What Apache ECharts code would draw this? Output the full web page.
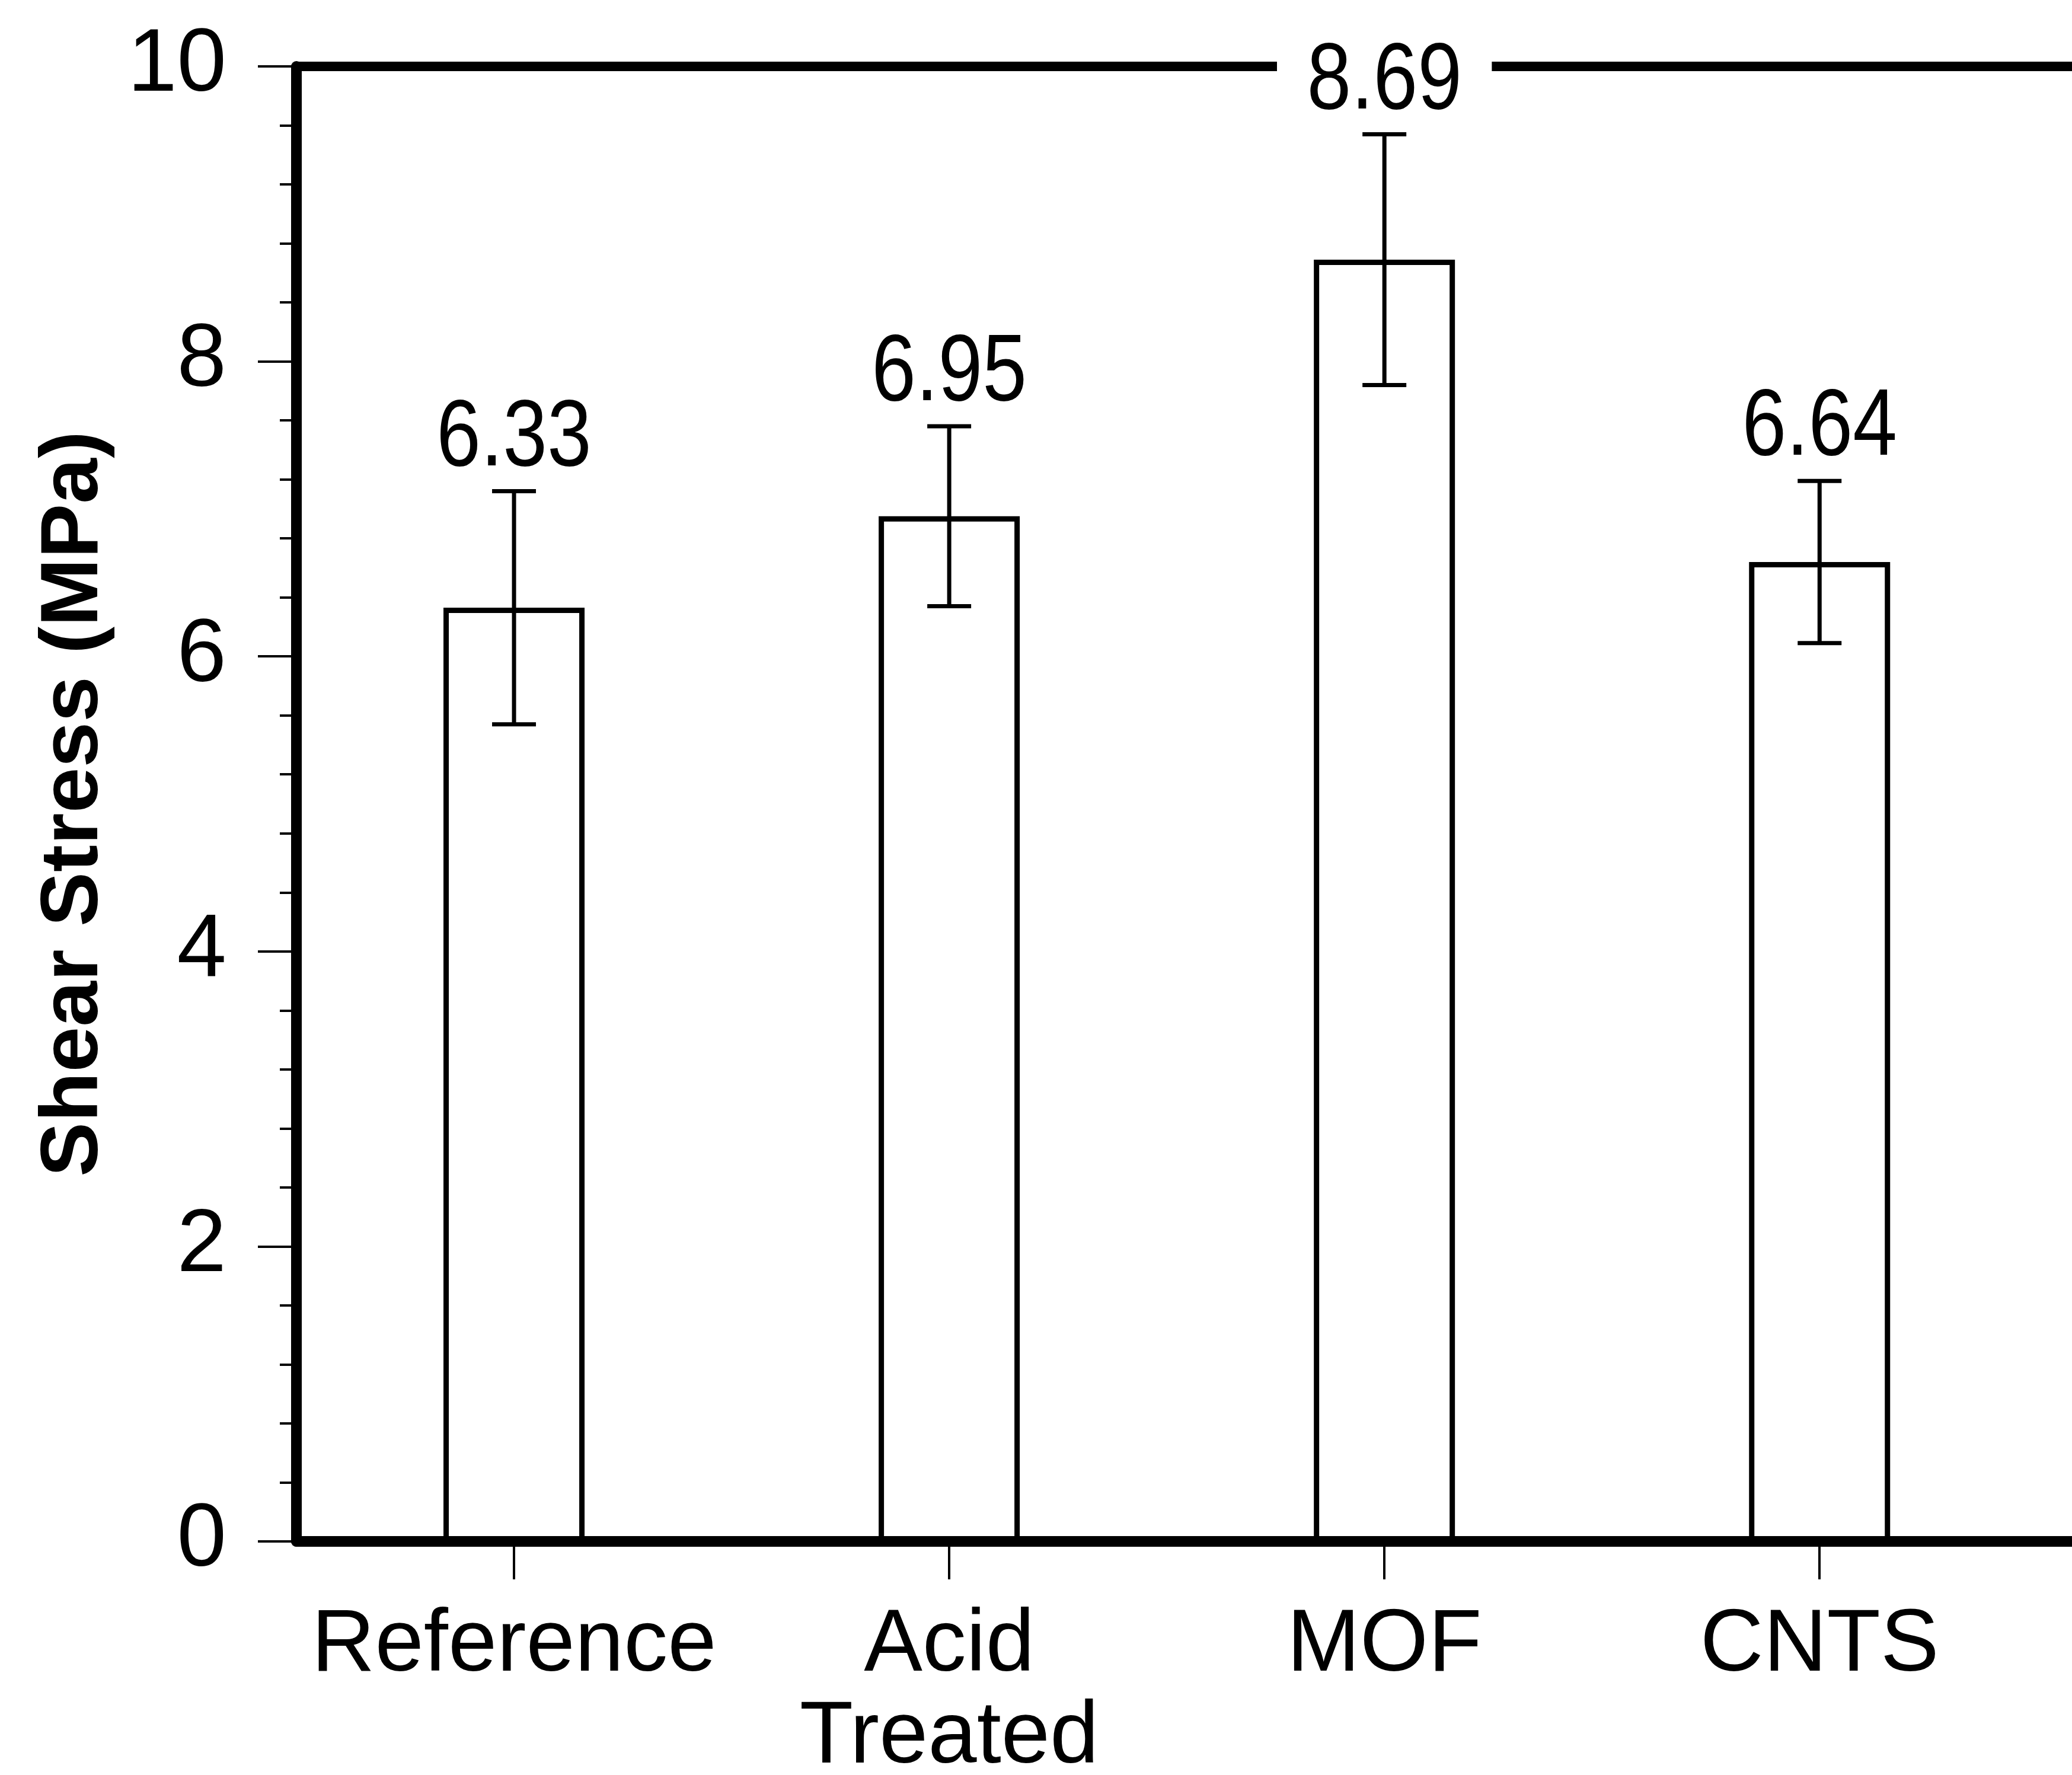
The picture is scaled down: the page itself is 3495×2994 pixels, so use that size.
<!DOCTYPE html>
<html>
<head>
<meta charset="utf-8">
<script src="https://cdn.jsdelivr.net/npm/echarts@6/dist/echarts.min.js"></script>
<style>
  html, body { margin: 0; padding: 0; background: #fff; }
  #container { width: 3495px; height: 2994px; }
</style>
</head>
<body>
<div id="container"></div>
<script>
// shear stress per sample, mean and +/- error
var categories = ['Reference', 'Acid\nTreated', 'MOF', 'CNTS'];
var positions = [1, 2, 3, 4];
var means = [6.33, 6.95, 8.69, 6.64];
var errors = [0.79, 0.61, 0.85, 0.55];
var yTicks = [0, 2, 4, 6, 8, 10];

var FONT = "'Liberation Sans Narrow', 'Arial Narrow', 'Liberation Sans', Arial, sans-serif";

var barData = positions.map(function (p, i) { return [p, means[i]]; });
var errData = positions.map(function (p, i) {
    return [p, means[i] - errors[i], means[i] + errors[i], means[i]];
});

var myChart = echarts.init(document.getElementById('container'));
var option = {
    animation: false,
    backgroundColor: '#fff',
    grid: {
        left: 500,
        right: 0,
        top: 112,
        bottom: 394,
        outerBoundsMode: 'none'
    },
    xAxis: [{
        type: 'value',
        position: 'bottom',
        min: 0.5,
        max: 4.58,
        splitLine: { show: false },
        axisLine: { lineStyle: { color: '#000', width: 18 } },
        axisTick: {
            customValues: positions,
            length: 64,
            lineStyle: { color: '#000', width: 4 }
        },
        axisLabel: {
            customValues: positions,
            margin: 100,
            color: '#000',
            fontSize: 148,
            lineHeight: 155,
            fontFamily: FONT,
            formatter: function (v) {
                var i = positions.indexOf(Math.round(v));
                return i >= 0 ? categories[i] : '';
            }
        }
    }, {
        type: 'value',
        position: 'top',
        min: 0.5,
        max: 4.58,
        splitLine: { show: false },
        axisLine: { lineStyle: { color: '#000', width: 16 } },
        axisTick: { show: false },
        axisLabel: { show: false }
    }],
    yAxis: {
        type: 'value',
        min: yTicks[0],
        max: yTicks[yTicks.length - 1],
        interval: 2,
        name: 'Shear Stress (MPa)',
        nameLocation: 'middle',
        nameGap: 305,
        nameMoveOverlap: false,
        nameTextStyle: {
            color: '#000',
            fontSize: 138,
            fontWeight: 'bold',
            fontFamily: FONT
        },
        splitLine: { show: false },
        axisLine: { show: true, lineStyle: { color: '#000', width: 18 } },
        axisTick: { length: 65, lineStyle: { color: '#000', width: 4 } },
        minorTick: { show: true, splitNumber: 5, length: 28, lineStyle: { color: '#000', width: 4 } },
        axisLabel: {
            margin: 118,
            color: '#000',
            fontSize: 150,
            fontFamily: FONT
        }
    },
    series: [{
        type: 'bar',
        data: barData,
        barWidth: 238,
        itemStyle: {
            color: '#fff',
            borderColor: '#000',
            borderWidth: 9
        }
    }, {
        type: 'custom',
        data: errData,
        z: 5,
        renderItem: function (params, api) {
            var x = api.value(0);
            var top = api.coord([x, api.value(2)]);
            var bot = api.coord([x, api.value(1)]);
            var hw = 37;
            var st = { stroke: '#000', lineWidth: 7 };
            return {
                type: 'group',
                children: [{
                    type: 'line',
                    shape: { x1: top[0], y1: top[1], x2: bot[0], y2: bot[1] },
                    style: st
                }, {
                    type: 'line',
                    shape: { x1: top[0] - hw, y1: top[1], x2: top[0] + hw, y2: top[1] },
                    style: st
                }, {
                    type: 'line',
                    shape: { x1: bot[0] - hw, y1: bot[1], x2: bot[0] + hw, y2: bot[1] },
                    style: st
                }, {
                    type: 'text',
                    x: top[0],
                    y: top[1] - 8,
                    scaleX: 0.84,
                    style: {
                        text: api.value(3).toFixed(2),
                        align: 'center',
                        verticalAlign: 'bottom',
                        fill: '#000',
                        fontSize: 160,
                        fontFamily: FONT,
                        backgroundColor: '#fff',
                        padding: [0, 60, 0, 60]
                    }
                }]
            };
        }
    }]
};
myChart.setOption(option);
</script>
</body>
</html>
